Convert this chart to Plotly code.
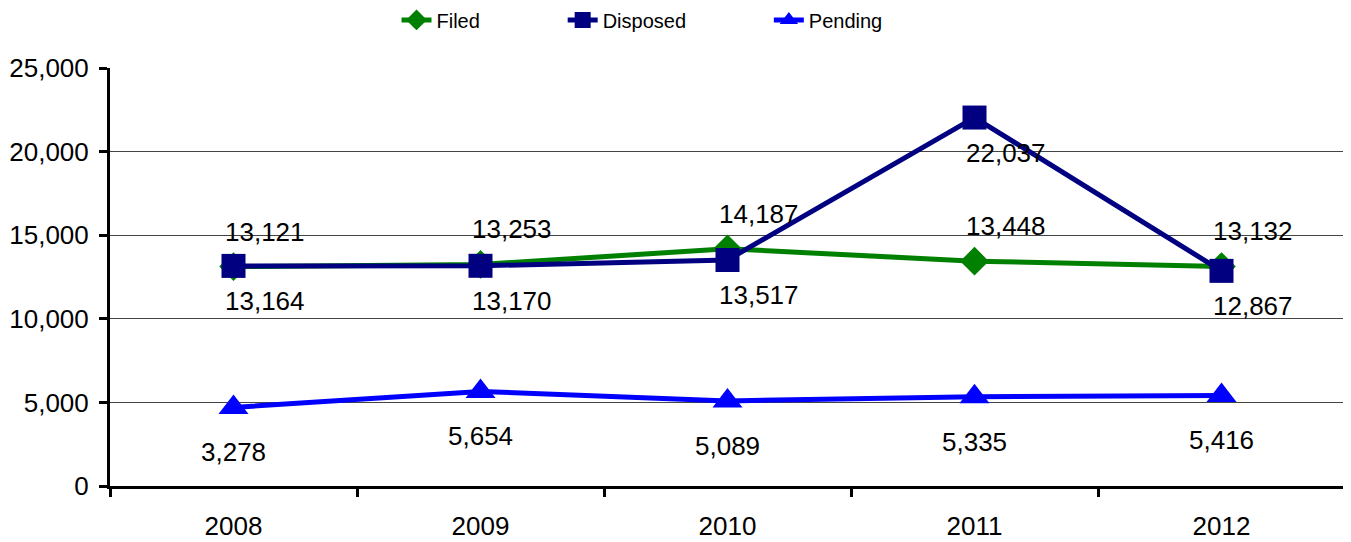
import plotly.graph_objects as go

years = ["2008", "2009", "2010", "2011", "2012"]
filed = [13121, 13253, 14187, 13448, 13132]
disposed = [13164, 13170, 13517, 22037, 12867]
pending = [4700, 5654, 5089, 5335, 5416]
pending_labels = ["3,278", "5,654", "5,089", "5,335", "5,416"]
y_ticks = [0, 5000, 10000, 15000, 20000, 25000]

FONT = "Arial, Liberation Sans, sans-serif"
PAD = "\u00a0" * 14

fig = go.Figure()
fig.add_trace(go.Scatter(x=years, y=filed, name="Filed" + PAD, mode="lines+markers",
                         line=dict(color="#008000", width=5),
                         marker=dict(symbol="diamond", size=22, color="#008000")))
fig.add_trace(go.Scatter(x=years, y=disposed, name="Disposed" + PAD, mode="lines+markers",
                         line=dict(color="#000080", width=5),
                         marker=dict(symbol="square", size=24, color="#000080")))
fig.add_trace(go.Scatter(x=years, y=pending, name="Pending", mode="lines+markers",
                         line=dict(color="#0000FF", width=5),
                         marker=dict(symbol="triangle-up", size=26, color="#0000FF")))

lab_font = dict(family=FONT, size=26, color="black")
annos = []
for i, v in enumerate(filed):
    annos.append(dict(x=i, y=v, xref="x", yref="y", text=f"{v:,}", showarrow=False,
                      xshift=31, yshift=35, font=lab_font))
for i, v in enumerate(disposed):
    annos.append(dict(x=i, y=v, xref="x", yref="y", text=f"{v:,}", showarrow=False,
                      xshift=31, yshift=-35, font=lab_font))
for i, (v, t) in enumerate(zip(pending, pending_labels)):
    annos.append(dict(x=i, y=v, xref="x", yref="y", text=t, showarrow=False,
                      xshift=0, yshift=-45, font=lab_font))

# page body has an 8px margin, so the figure is sized and margined to compensate
fig.update_layout(
    width=1343, height=534,
    margin=dict(l=102, r=6, t=60, b=56, autoexpand=False),
    plot_bgcolor="white", paper_bgcolor="white",
    font=dict(family=FONT, size=26, color="black"),
    showlegend=True,
    annotations=annos,
    legend=dict(orientation="h", x=0.232, xanchor="left", y=1.115, yanchor="middle",
                font=dict(family=FONT, size=20), bgcolor="rgba(0,0,0,0)"),
    xaxis=dict(type="category", range=[-0.5, 4.5], showline=True, linecolor="black",
               linewidth=3, ticks="outside", tickson="boundaries", ticklen=8,
               tickwidth=3, tickcolor="black", showgrid=False,
               ticklabelstandoff=15, tickfont=dict(size=26)),
    yaxis=dict(range=[0, 25000], tickvals=y_ticks, tickformat=",", showline=True,
               linecolor="black", linewidth=3, ticks="outside", ticklen=8,
               tickwidth=3, tickcolor="black", showgrid=True, gridcolor="#444444",
               gridwidth=1, zeroline=False, ticklabelstandoff=5,
               tickfont=dict(size=26)),
)

fig.write_html("out.html")
